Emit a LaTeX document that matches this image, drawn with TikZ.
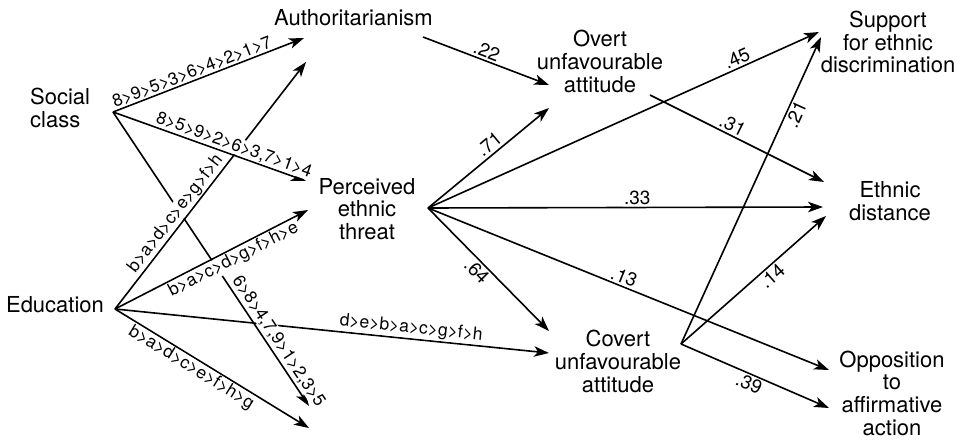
\documentclass[tikz,border=0pt]{standalone}
\usepackage{fontspec}
\setmainfont{TeX Gyre Heros}
\usetikzlibrary{arrows.meta}
\begin{document}
\begin{tikzpicture}[x=1pt,y=-1pt,
  arr/.style={line width=1.6pt, -{Stealth[length=15pt,width=10.5pt,inset=4pt]}},
  var/.style={font=\fontsize{22}{22.7}\selectfont, align=center, inner sep=0pt},
  rank/.style={font=\fontsize{17.5}{19}\selectfont, sloped, fill=white, inner sep=0.8pt},
  coef/.style={font=\fontsize{19}{21}\selectfont, sloped, fill=white, inner sep=1.5pt},
]
\useasboundingbox (0,0) rectangle (968,444);

% variable nodes
\node[var, anchor=west, align=left] (soc) at (30,108) {Social\\class};
\node[var] (edu) at (55,305) {Education};
\node[var] (auth) at (353.5,18) {Authoritarianism};
\node[var] (thr) at (367,209) {Perceived\\ethnic\\threat};
\node[var] (ovt) at (600,61.5) {Overt\\unfavourable\\attitude};
\node[var] (cov) at (618,361.5) {Covert\\unfavourable\\attitude};
\node[var] (sup) at (888,42) {Support\\for ethnic\\discrimination};
\node[var] (eth) at (890,201) {Ethnic\\distance};
\node[var] (opp) at (892,393) {Opposition\\to\\affirmative\\action};

% connector end points
\coordinate (sO) at (113,112);
\coordinate (eO) at (115,309);
\coordinate (aO) at (423,37);
\coordinate (tO) at (428,208);
\coordinate (oO) at (650,95);
\coordinate (cO) at (681,344);
\coordinate (au1) at (304,38);
\coordinate (au2) at (306,62);
\coordinate (th1) at (306,181);
\coordinate (th2) at (308,210);
\coordinate (sEnd) at (309,406);
\coordinate (eEnd) at (309,428);
\coordinate (ov1) at (549,85);
\coordinate (ov2) at (549,108);
\coordinate (cv1) at (549,331);
\coordinate (cv2) at (549,353);
\coordinate (su1) at (819,32);
\coordinate (su2) at (821,37);
\coordinate (et1) at (824,182);
\coordinate (et2) at (823,207);
\coordinate (et3) at (826,216);
\coordinate (op1) at (829,370);
\coordinate (op2) at (829,408);

% connectors
\draw[arr] (sO) -- (au1);
\draw[arr] (sO) -- (th1);
\draw[arr] (sO) -- (sEnd);
\draw[arr] (eO) -- (au2);
\draw[arr] (eO) -- (th2);
\draw[arr] (eO) -- (cv2);
\draw[arr] (eO) -- (eEnd);
\draw[arr] (aO) -- (ov1);
\draw[arr] (tO) -- (ov2);
\draw[arr] (tO) -- (su1);
\draw[arr] (tO) -- (et2);
\draw[arr] (tO) -- (cv1);
\draw[arr] (tO) -- (op1);
\draw[arr] (oO) -- (et1);
\draw[arr] (cO) -- (su2);
\draw[arr] (cO) -- (et3);
\draw[arr] (cO) -- (op2);

% labels
\path (sO) -- (au1) node[rank, pos=0.43, above=1pt] {8>9>5>3>6>4>2>1>7};
\path (sO) -- (th1) node[rank, pos=0.61, above=1pt] {8>5>9>2>6>3,7>1>4};
\path (sO) -- (sEnd) node[rank, pos=0.80, above=2pt] {6>8>4,7,9>1>2,3>5};
\path (eO) -- (au2) node[rank, pos=0.36, above=1pt] {b>a>d>c>e>g>f>h};
\path (eO) -- (th2) node[rank, pos=0.59, below=1pt] {b>a>c>d>g>f>h>e};
\path (eO) -- (cv2) node[rank, pos=0.68, above=1pt] {d>e>b>a>c>g>f>h};
\path (eO) -- (eEnd) node[rank, pos=0.42, below=1pt] {b>a>d>c>e>f>h>g};

\path (aO) -- (ov1) node[coef, pos=0.48, above=1pt] {.22};
\path (tO) -- (ov2) node[coef, pos=0.56, above=2pt] {.71};
\path (tO) -- (su1) node[coef, pos=0.80, above=1pt] {.45};
\path (tO) -- (et2) node[coef, pos=0.53, above=1pt] {.33};
\path (tO) -- (cv1) node[coef, pos=0.46, below=1pt] {.64};
\path (tO) -- (op1) node[coef, pos=0.48, above=1pt] {.13};
\path (oO) -- (et1) node[coef, pos=0.45, above=1pt] {.31};
\path (cO) -- (su2) node[coef, pos=0.76, below=1pt] {.21};
\path (cO) -- (et3) node[coef, pos=0.585, below=1pt] {.14};
\path (cO) -- (op2) node[coef, pos=0.485, below=1pt] {.39};
\end{tikzpicture}
\end{document}
